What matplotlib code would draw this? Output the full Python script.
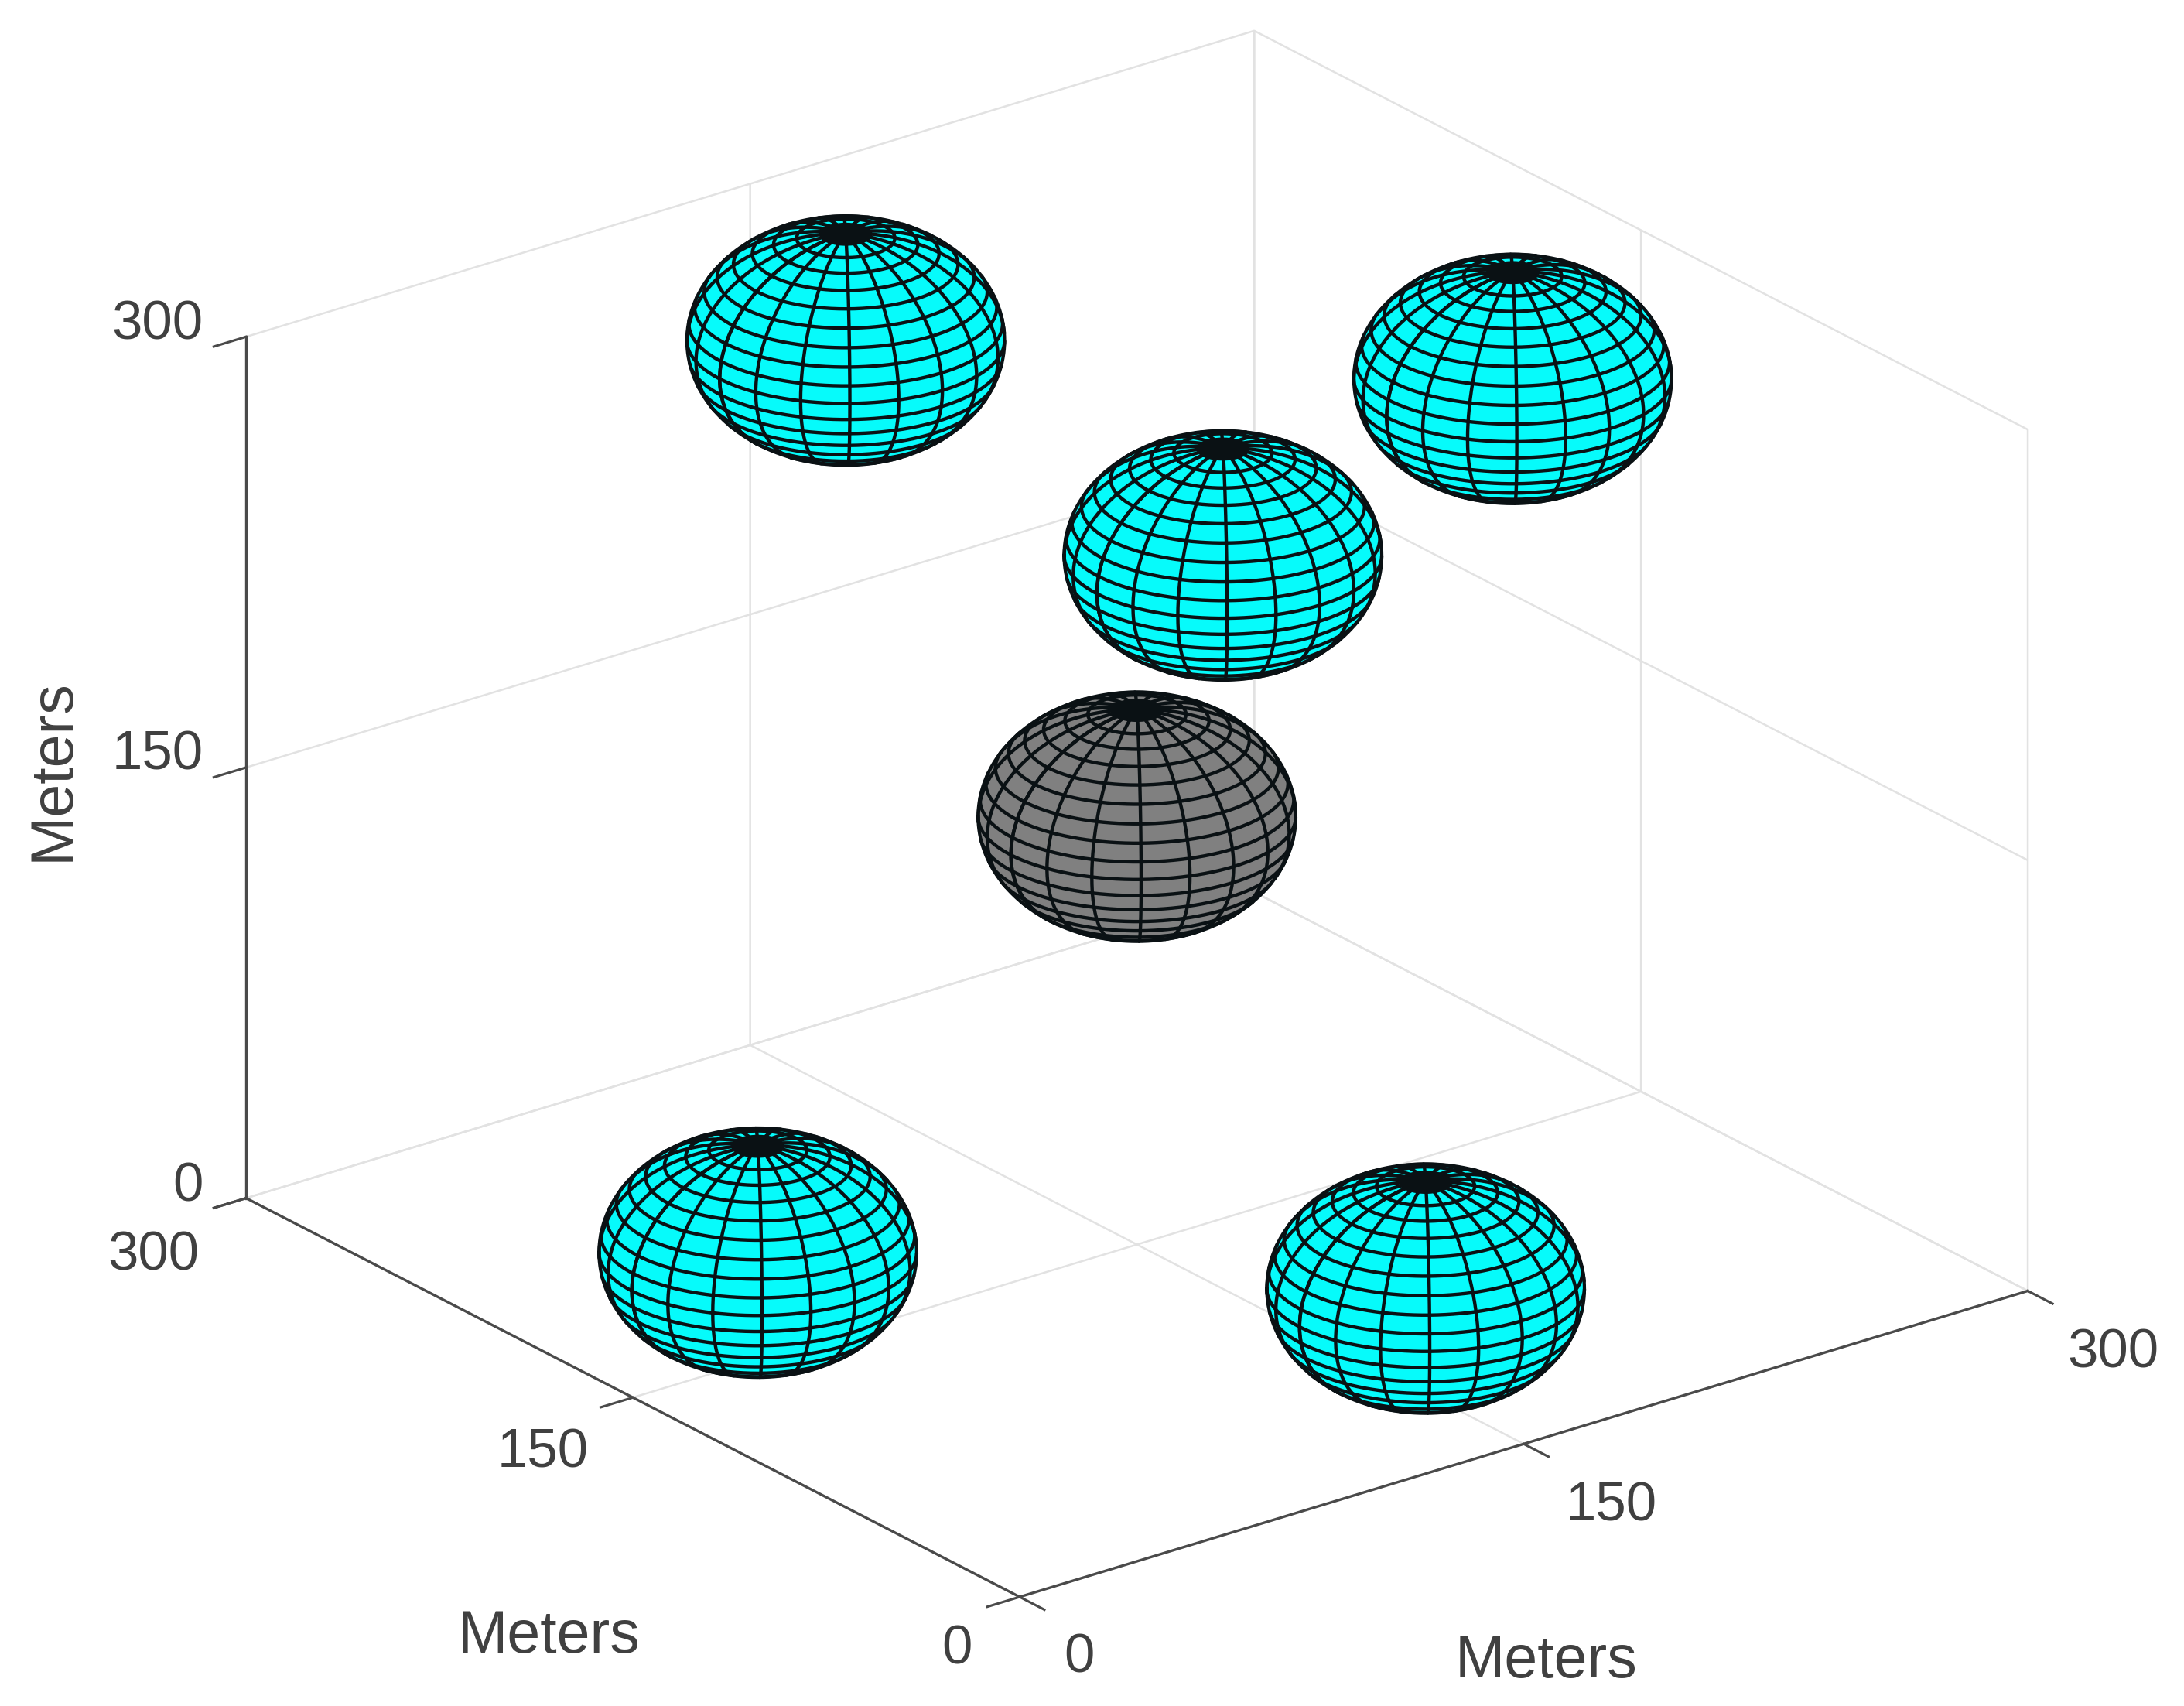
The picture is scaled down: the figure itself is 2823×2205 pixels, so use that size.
import numpy as np
import matplotlib
matplotlib.use("Agg")
import matplotlib.pyplot as plt
from matplotlib.colors import to_rgba
from matplotlib.transforms import Affine2D
from matplotlib.artist import Artist
from matplotlib.text import Text
from mpl_toolkits.mplot3d import proj3d

plt.rcParams['font.family'] = ['Liberation Sans', 'DejaVu Sans']

W, H, DPI = 2823, 2205, 300
tick_values = [0, 150, 300]
tick_labels = ['0', '150', '300']
axis_label = 'Meters'
sphere_radius = 37.5
sphere_x = [51, 163, 137, 248, 260, 150]
sphere_y = [168, 55, 246, 132, 260, 150]
sphere_z = [24, 24, 275, 275, 150, 149]
sphere_colors = ['#06fbfb'] * 5 + ['#808080']
N = 20       # mesh cells of the sphere, as in sphere(20)
M = 4        # fill subdivision per mesh cell
ELEV, AZIM = 23.3, -127.5
ASPECT = (1, 1, 0.738)
EDGE = '#0a1114'
TXT = '#404040'
AXC = '#4a4a4a'

fig = plt.figure(figsize=(W / DPI, H / DPI), dpi=DPI, facecolor='white')
ax = fig.add_axes([0, 0, 1, 1], projection='3d', proj_type='ortho', facecolor='none',
                  computed_zorder=False)
ax.view_init(elev=ELEV, azim=AZIM)
ax.set_box_aspect(ASPECT)

# visibility on the squashed sphere
el, az = np.radians(ELEV), np.radians(AZIM)
view = np.array([np.cos(el) * np.cos(az), np.cos(el) * np.sin(az), np.sin(el) / ASPECT[2]])
view /= np.linalg.norm(view)
e1 = np.cross(view, [0, 0, 1]); e1 /= np.linalg.norm(e1)
e2 = np.cross(view, e1)


def front_only(ux, uy, uz):
    keep = ux * view[0] + uy * view[1] + uz * view[2] > 0
    return np.where(keep, ux, np.nan), np.where(keep, uy, np.nan), np.where(keep, uz, np.nan)


theta = np.linspace(-np.pi, np.pi, N * M + 1)
phi = np.linspace(-np.pi / 2, np.pi / 2, N * M + 1)
TH, PH = np.meshgrid(theta, phi)
UX, UY, UZ = np.cos(PH) * np.cos(TH), np.cos(PH) * np.sin(TH), np.sin(PH)
lat_mid = (phi[:-1] + phi[1:]) / 2
fine_t = np.linspace(-np.pi, np.pi, 361)
fine_p = np.linspace(-np.pi / 2, np.pi / 2, 181)
limb_t = np.linspace(0, 2 * np.pi, 361)

for cx, cy, cz, col in zip(sphere_x, sphere_y, sphere_z, sphere_colors):
    fc = np.tile(np.array(to_rgba(col)), (N * M, N * M, 1))
    fc[lat_mid > np.radians(81)] = to_rgba(EDGE)      # the pole closes up into a dark cap
    ax.plot_surface(cx + sphere_radius * UX, cy + sphere_radius * UY, cz + sphere_radius * UZ,
                    rstride=1, cstride=1, facecolors=fc, linewidth=0, antialiased=False,
                    shade=False, zorder=3)
    for t in theta[::M]:
        ux, uy, uz = front_only(np.cos(fine_p) * np.cos(t), np.cos(fine_p) * np.sin(t), np.sin(fine_p))
        ax.plot(cx + sphere_radius * ux, cy + sphere_radius * uy, cz + sphere_radius * uz,
                color=EDGE, lw=1.05, zorder=4, solid_capstyle='round')
    for p in phi[::M][1:-1]:
        ux, uy, uz = front_only(np.cos(p) * np.cos(fine_t), np.cos(p) * np.sin(fine_t), np.full_like(fine_t, np.sin(p)))
        ax.plot(cx + sphere_radius * ux, cy + sphere_radius * uy, cz + sphere_radius * uz,
                color=EDGE, lw=1.05, zorder=4, solid_capstyle='round')
    lx = np.cos(limb_t)[:, None] * e1 + np.sin(limb_t)[:, None] * e2
    ax.plot(cx + sphere_radius * lx[:, 0], cy + sphere_radius * lx[:, 1], cz + sphere_radius * lx[:, 2],
            color=EDGE, lw=1.0, zorder=5)

ax.set_xlim(0, 300); ax.set_ylim(0, 300); ax.set_zlim(0, 300)

for a in (ax.xaxis, ax.yaxis, ax.zaxis):
    a.set_ticks(tick_values)
    a.set_ticklabels(tick_labels)
    a.set_pane_color((1, 1, 1, 0))
    a.pane.set_edgecolor('#dcdcdc')
    a.pane.set_linewidth(0.6)
    a.line.set_color(AXC)
    a.line.set_linewidth(0.8)
    info = a._axinfo
    info['grid'].update(color='#e2e2e2', linewidth=0.6, linestyle='-')
    info['tick'].update(inward_factor=0.4, outward_factor=0.0,
                        linewidth={True: 0.75, False: 0.75}, color=AXC)
    a.set_tick_params(color=AXC, labelcolor=TXT, labelsize=17, width=0.75, pad=6)
    a.label.set_color(TXT)
    a.set_rotate_label(False)
ax.set_xlabel(axis_label, fontsize=18.5, rotation=0)
ax.set_ylabel(axis_label, fontsize=18.5, rotation=0)
ax.set_zlabel(axis_label, fontsize=18.5, rotation=90)
ax.grid(True)


# fit the axes box to the reference's frame
def px(x, y, z):
    X, Y, _ = proj3d.proj_transform(x, y, z, ax.get_proj())
    p = ax.transData.transform((X, Y))
    return np.array([p[0], H - p[1]])


target_origin = np.array([1318.0, 2064.0])
target_xend = np.array([2620.0, 1665.0])
fig.canvas.draw()
ratio = np.linalg.norm(target_xend - target_origin) / np.linalg.norm(px(300, 0, 0) - px(0, 0, 0))
ax.set_box_aspect(ASPECT, zoom=ratio)
fig.canvas.draw()
d = target_origin - px(0, 0, 0)
ax.set_position([d[0] / W, -d[1] / H, 1, 1])

# text centres, in pixels of the 1568-wide view
SC = W / 1568
label_centres = {
    'x': {'0': (775, 1190.5), '150': (1157, 1081.5), '300': (1517, 971.5)},
    'y': {'0': (687, 1184.5), '150': (390, 1043.5), '300': (110, 901.5)},
    'z': {'0': (135, 852.5), '150': (113, 542.5), '300': (113, 233.5)},
}
title_centres = {'x': (1110, 1193), 'y': (394, 1175), 'z': (38, 553)}
offsets = {}


def shift_needed(text, target, r):
    bb = text.get_window_extent(r)
    return (target[0] * SC - (bb.x0 + bb.x1) / 2,
            (H - target[1] * SC) - (bb.y0 + bb.y1) / 2)


def nudge_tick(text, target, r):
    dx, dy = shift_needed(text, target, r)
    old = offsets.get(id(text), (0.0, 0.0))
    offsets[id(text)] = new = (old[0] + dx, old[1] + dy)
    Artist.set_transform(text, ax.transData + Affine2D().translate(*new))
    text.set_transform = lambda t: None   # the 3D axis reassigns transforms at every draw


def nudge_title(text, target, r):
    # the 3D axis also resets the title's transform, so shift the position it is given
    dx, dy = shift_needed(text, target, r)
    old = offsets.get(id(text), (0.0, 0.0))
    offsets[id(text)] = new = (old[0] + dx, old[1] + dy)

    def placed(xy, text=text, off=new):
        p = ax.transData.transform(xy) + np.array(off)
        Text.set_position(text, ax.transData.inverted().transform(p))
    text.set_position = placed


for _ in range(4):
    fig.canvas.draw()
    r = fig.canvas.get_renderer()
    for name, a in (('x', ax.xaxis), ('y', ax.yaxis), ('z', ax.zaxis)):
        for tick in a.get_major_ticks():
            nudge_tick(tick.label1, label_centres[name][tick.label1.get_text()], r)
        nudge_title(a.label, title_centres[name], r)

fig.savefig('out.png', dpi=DPI, facecolor='white')
